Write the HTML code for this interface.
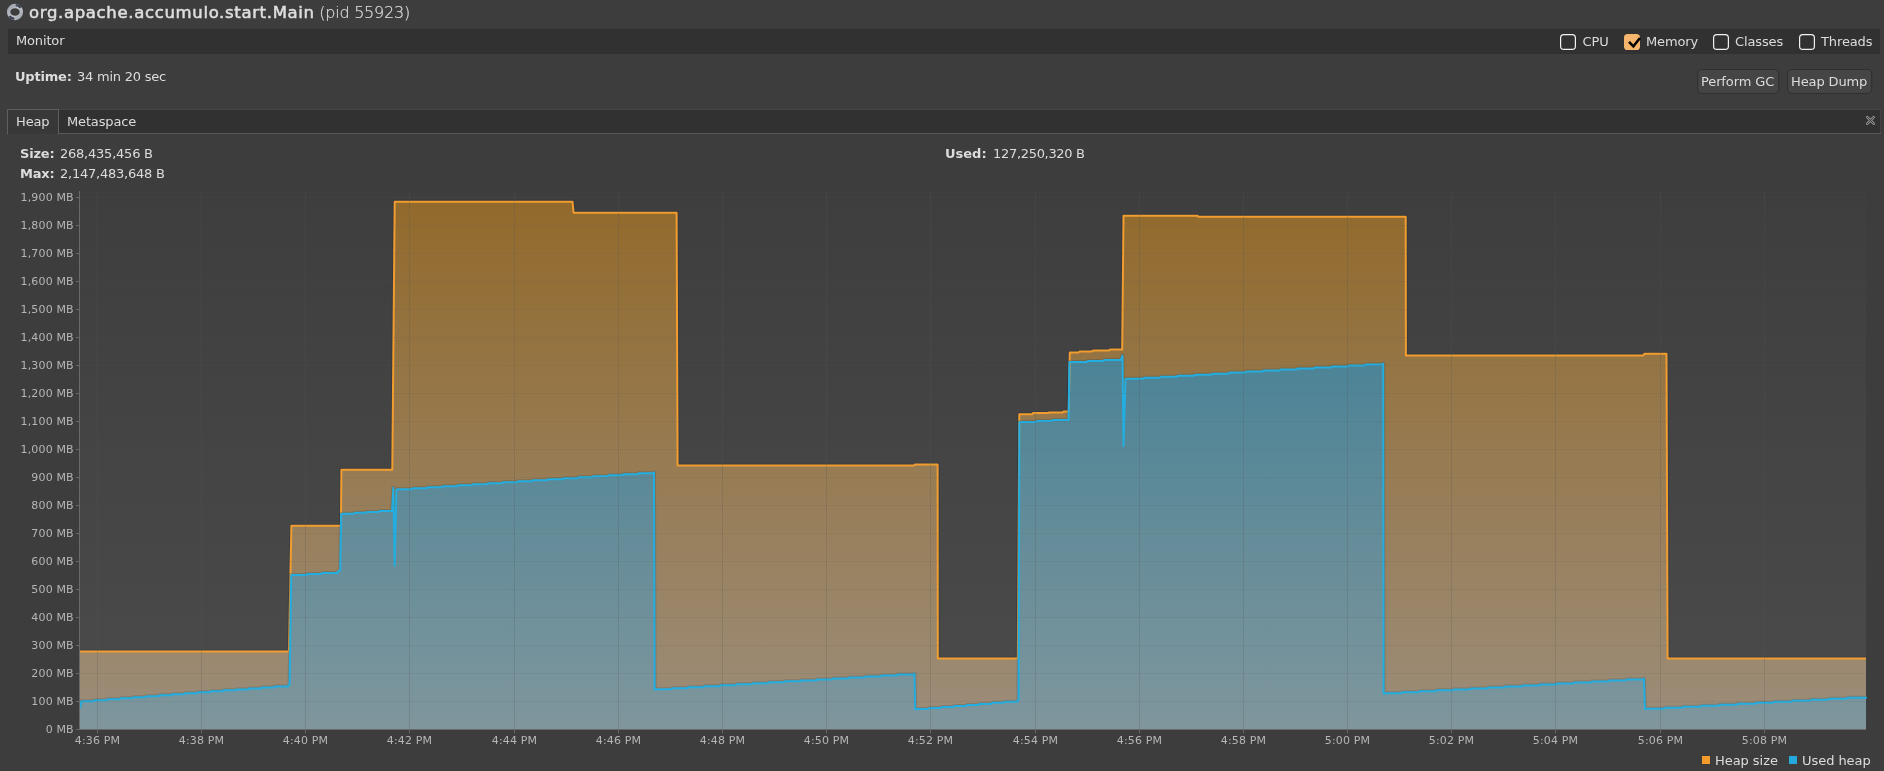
<!DOCTYPE html>
<html><head><meta charset="utf-8"><title>VisualVM - org.apache.accumulo.start.Main</title>
<style>
html,body{margin:0;padding:0}
body{width:1884px;height:771px;overflow:hidden;background:#3d3d3d;color:#dcdcdc;font-family:"DejaVu Sans","Liberation Sans",sans-serif;font-size:13px;position:relative}
#wrap{position:absolute;left:0;top:0;width:1884px;height:771px;will-change:transform}
.abs{position:absolute;white-space:nowrap}
#title{left:29px;top:2px;font-size:16.5px;line-height:22px;color:#dedede;letter-spacing:0.66px;-webkit-text-stroke:0.55px #dedede}
#pid{left:319.3px;top:2px;font-size:16px;line-height:22px;color:#dcdcdc;font-weight:200;letter-spacing:-0.24px;-webkit-text-stroke:0.22px #dcdcdc}
.t{line-height:16px;height:16px;letter-spacing:-0.15px}
.t b{letter-spacing:-0.2px}
.n{letter-spacing:-0.23px}
.c{letter-spacing:-0.12px}
#chart{position:absolute;left:0;top:0}
#chart text{font-family:"DejaVu Sans","Liberation Sans",sans-serif;font-size:11px;fill:#b6b6b6;letter-spacing:0.15px}
.lg{top:753px;letter-spacing:-0.05px;font-size:13px;line-height:16px;color:#dcdcdc}
</style></head><body><div id="wrap">
<svg id="chart" width="1884" height="771" viewBox="0 0 1884 771">
<defs>
<linearGradient id="pbg" gradientUnits="userSpaceOnUse" x1="0" y1="191" x2="0" y2="729"><stop offset="0" stop-color="#3e3e3e"/><stop offset="1" stop-color="#4b4b4b"/></linearGradient>
<linearGradient id="og" gradientUnits="userSpaceOnUse" x1="0" y1="191" x2="0" y2="729"><stop offset="0" stop-color="#92692a"/><stop offset="1" stop-color="#9c8d7a"/></linearGradient>
<linearGradient id="bg" gradientUnits="userSpaceOnUse" x1="0" y1="191" x2="0" y2="729"><stop offset="0" stop-color="#347b94"/><stop offset="1" stop-color="#7f969c"/></linearGradient>
<linearGradient id="ic" x1="0" y1="0" x2="1" y2="1"><stop offset="0" stop-color="#8e939e"/><stop offset="0.5" stop-color="#c2c5cb"/><stop offset="1" stop-color="#989da7"/></linearGradient>
</defs>
<rect x="80" y="191" width="1786" height="538" fill="url(#pbg)"/>
<polygon points="80.0,651.5 288.9,651.5 291.4,525.7 340.9,525.7 341.4,469.7 392.3,469.7 394.7,201.7 572.5,201.7 573.6,212.7 676.6,212.7 677.6,465.5 914.0,465.4 915.0,464.4 937.6,464.4 937.8,658.6 1017.8,658.6 1019.3,414.2 1032.0,414.2 1033.2,413.1 1048.0,413.1 1049.2,412.5 1062.4,412.5 1063.6,411.5 1068.7,411.5 1069.8,352.4 1078.4,352.4 1079.6,351.4 1091.9,351.4 1093.1,350.6 1108.8,350.6 1110.0,349.6 1122.2,349.6 1123.5,215.7 1197.5,215.7 1198.5,216.7 1405.7,216.7 1405.9,355.5 1643.2,355.5 1644.2,353.8 1666.5,353.8 1667.6,658.5 1866.0,658.5 1866.0,729.0 80.0,729.0" fill="url(#og)"/>
<polygon points="80.0,708.0 81.3,701.4 82.5,701.2 93.8,701.2 95.3,700.2 106.7,700.2 108.2,699.2 119.5,699.2 121.0,698.2 132.4,698.2 133.9,697.2 145.2,697.2 146.7,696.3 158.1,696.3 159.6,695.3 170.9,695.3 172.4,694.3 183.8,694.3 185.2,693.3 196.6,693.3 198.1,692.3 209.4,692.3 210.9,691.3 222.3,691.3 223.8,690.3 235.1,690.3 236.6,689.4 248.0,689.4 249.5,688.4 260.8,688.4 262.3,687.4 273.7,687.4 275.2,686.4 288.0,686.4 288.0,685.4 289.6,684.6 291.2,575.3 292.5,575.1 306.0,575.1 307.5,574.0 321.0,574.0 322.5,572.9 337.5,572.9 337.5,571.8 340.2,570.5 341.2,513.9 342.5,513.7 353.4,513.7 354.9,512.8 365.8,512.8 367.3,511.9 378.2,511.9 379.7,510.9 392.1,510.9 392.1,510.0 393.3,487.8 394.7,565.8 396.4,489.7 398.0,489.2 411.6,489.2 413.1,488.2 426.6,488.2 428.1,487.2 441.7,487.2 443.2,486.2 456.7,486.2 458.2,485.2 471.8,485.2 473.3,484.2 486.9,484.2 488.4,483.2 501.9,483.2 503.4,482.2 517.0,482.2 518.5,481.2 532.0,481.2 533.5,480.2 547.1,480.2 548.6,479.2 562.1,479.2 563.6,478.2 577.2,478.2 578.7,477.2 592.3,477.2 593.8,476.2 607.3,476.2 608.8,475.2 622.4,475.2 623.9,474.2 637.4,474.2 638.9,473.2 654.0,473.2 654.0,472.2 654.6,689.4 656.0,689.3 670.6,689.3 672.1,688.3 686.8,688.3 688.3,687.3 703.0,687.3 704.5,686.3 719.1,686.3 720.6,685.3 735.2,685.3 736.8,684.3 751.4,684.3 752.9,683.3 767.5,683.3 769.0,682.3 783.7,682.3 785.2,681.3 799.9,681.3 801.4,680.4 816.0,680.4 817.5,679.4 832.1,679.4 833.6,678.4 848.3,678.4 849.8,677.4 864.5,677.4 866.0,676.4 880.6,676.4 882.1,675.4 896.8,675.4 898.2,674.4 914.4,674.4 914.4,673.4 915.2,709.4 917.0,709.0 928.0,709.0 929.5,708.0 940.6,708.0 942.1,707.0 953.1,707.0 954.6,705.9 965.7,705.9 967.2,704.9 978.2,704.9 979.8,703.9 990.8,703.9 992.3,702.8 1003.4,702.8 1004.9,701.8 1017.4,701.8 1017.4,700.8 1018.6,699.5 1019.4,422.2 1021.0,422.0 1035.4,422.0 1036.9,421.1 1051.2,421.1 1052.7,420.1 1068.6,420.1 1068.6,419.2 1069.4,362.3 1071.0,362.1 1086.3,362.1 1087.8,361.0 1103.0,361.0 1104.5,359.9 1121.3,359.9 1121.3,358.8 1122.5,355.7 1123.5,446.0 1125.5,379.0 1127.0,378.8 1142.6,378.8 1144.1,377.8 1159.7,377.8 1161.2,376.7 1176.7,376.7 1178.2,375.7 1193.8,375.7 1195.3,374.7 1210.9,374.7 1212.4,373.7 1228.0,373.7 1229.5,372.6 1245.1,372.6 1246.6,371.6 1262.1,371.6 1263.6,370.6 1279.2,370.6 1280.7,369.6 1296.3,369.6 1297.8,368.5 1313.4,368.5 1314.9,367.5 1330.5,367.5 1332.0,366.5 1347.5,366.5 1349.0,365.5 1364.6,365.5 1366.1,364.4 1383.2,364.4 1383.2,363.4 1383.6,693.5 1385.0,693.3 1400.8,693.3 1402.3,692.3 1418.0,692.3 1419.5,691.3 1435.3,691.3 1436.8,690.3 1452.5,690.3 1454.0,689.4 1469.8,689.4 1471.3,688.4 1487.1,688.4 1488.6,687.4 1504.3,687.4 1505.8,686.4 1521.6,686.4 1523.1,685.4 1538.8,685.4 1540.3,684.4 1556.1,684.4 1557.6,683.4 1573.4,683.4 1574.9,682.4 1590.6,682.4 1592.1,681.5 1607.9,681.5 1609.4,680.5 1625.1,680.5 1626.6,679.5 1643.9,679.5 1643.9,678.5 1645.0,709.0 1647.0,708.7 1663.8,708.7 1665.2,707.7 1682.0,707.7 1683.5,706.7 1700.2,706.7 1701.8,705.7 1718.5,705.7 1720.0,704.7 1736.8,704.7 1738.2,703.7 1755.0,703.7 1756.5,702.7 1773.2,702.7 1774.8,701.7 1791.5,701.7 1793.0,700.7 1809.8,700.7 1811.2,699.7 1828.0,699.7 1829.5,698.7 1846.2,698.7 1847.8,697.7 1866.0,697.7 1866.0,696.7 1866.0,729.0 80.0,729.0" fill="url(#bg)"/>
<clipPath id="co"><path clip-rule="evenodd" d="M80 191H1866V729H80Z M80.0 651.5 L288.9 651.5 L291.4 525.7 L340.9 525.7 L341.4 469.7 L392.3 469.7 L394.7 201.7 L572.5 201.7 L573.6 212.7 L676.6 212.7 L677.6 465.5 L914.0 465.4 L915.0 464.4 L937.6 464.4 L937.8 658.6 L1017.8 658.6 L1019.3 414.2 L1032.0 414.2 L1033.2 413.1 L1048.0 413.1 L1049.2 412.5 L1062.4 412.5 L1063.6 411.5 L1068.7 411.5 L1069.8 352.4 L1078.4 352.4 L1079.6 351.4 L1091.9 351.4 L1093.1 350.6 L1108.8 350.6 L1110.0 349.6 L1122.2 349.6 L1123.5 215.7 L1197.5 215.7 L1198.5 216.7 L1405.7 216.7 L1405.9 355.5 L1643.2 355.5 L1644.2 353.8 L1666.5 353.8 L1667.6 658.5 L1866.0 658.5 L1866.0 732.0 L77.0 732.0 L77.0 651.5Z"/></clipPath>
<clipPath id="cb"><path clip-rule="evenodd" d="M80 191H1866V729H80Z M80.0 708.0 L81.3 701.4 L82.5 701.2 L93.8 701.2 L95.3 700.2 L106.7 700.2 L108.2 699.2 L119.5 699.2 L121.0 698.2 L132.4 698.2 L133.9 697.2 L145.2 697.2 L146.7 696.3 L158.1 696.3 L159.6 695.3 L170.9 695.3 L172.4 694.3 L183.8 694.3 L185.2 693.3 L196.6 693.3 L198.1 692.3 L209.4 692.3 L210.9 691.3 L222.3 691.3 L223.8 690.3 L235.1 690.3 L236.6 689.4 L248.0 689.4 L249.5 688.4 L260.8 688.4 L262.3 687.4 L273.7 687.4 L275.2 686.4 L288.0 686.4 L288.0 685.4 L289.6 684.6 L291.2 575.3 L292.5 575.1 L306.0 575.1 L307.5 574.0 L321.0 574.0 L322.5 572.9 L337.5 572.9 L337.5 571.8 L340.2 570.5 L341.2 513.9 L342.5 513.7 L353.4 513.7 L354.9 512.8 L365.8 512.8 L367.3 511.9 L378.2 511.9 L379.7 510.9 L392.1 510.9 L392.1 510.0 L393.3 487.8 L394.7 565.8 L396.4 489.7 L398.0 489.2 L411.6 489.2 L413.1 488.2 L426.6 488.2 L428.1 487.2 L441.7 487.2 L443.2 486.2 L456.7 486.2 L458.2 485.2 L471.8 485.2 L473.3 484.2 L486.9 484.2 L488.4 483.2 L501.9 483.2 L503.4 482.2 L517.0 482.2 L518.5 481.2 L532.0 481.2 L533.5 480.2 L547.1 480.2 L548.6 479.2 L562.1 479.2 L563.6 478.2 L577.2 478.2 L578.7 477.2 L592.3 477.2 L593.8 476.2 L607.3 476.2 L608.8 475.2 L622.4 475.2 L623.9 474.2 L637.4 474.2 L638.9 473.2 L654.0 473.2 L654.0 472.2 L654.6 689.4 L656.0 689.3 L670.6 689.3 L672.1 688.3 L686.8 688.3 L688.3 687.3 L703.0 687.3 L704.5 686.3 L719.1 686.3 L720.6 685.3 L735.2 685.3 L736.8 684.3 L751.4 684.3 L752.9 683.3 L767.5 683.3 L769.0 682.3 L783.7 682.3 L785.2 681.3 L799.9 681.3 L801.4 680.4 L816.0 680.4 L817.5 679.4 L832.1 679.4 L833.6 678.4 L848.3 678.4 L849.8 677.4 L864.5 677.4 L866.0 676.4 L880.6 676.4 L882.1 675.4 L896.8 675.4 L898.2 674.4 L914.4 674.4 L914.4 673.4 L915.2 709.4 L917.0 709.0 L928.0 709.0 L929.5 708.0 L940.6 708.0 L942.1 707.0 L953.1 707.0 L954.6 705.9 L965.7 705.9 L967.2 704.9 L978.2 704.9 L979.8 703.9 L990.8 703.9 L992.3 702.8 L1003.4 702.8 L1004.9 701.8 L1017.4 701.8 L1017.4 700.8 L1018.6 699.5 L1019.4 422.2 L1021.0 422.0 L1035.4 422.0 L1036.9 421.1 L1051.2 421.1 L1052.7 420.1 L1068.6 420.1 L1068.6 419.2 L1069.4 362.3 L1071.0 362.1 L1086.3 362.1 L1087.8 361.0 L1103.0 361.0 L1104.5 359.9 L1121.3 359.9 L1121.3 358.8 L1122.5 355.7 L1123.5 446.0 L1125.5 379.0 L1127.0 378.8 L1142.6 378.8 L1144.1 377.8 L1159.7 377.8 L1161.2 376.7 L1176.7 376.7 L1178.2 375.7 L1193.8 375.7 L1195.3 374.7 L1210.9 374.7 L1212.4 373.7 L1228.0 373.7 L1229.5 372.6 L1245.1 372.6 L1246.6 371.6 L1262.1 371.6 L1263.6 370.6 L1279.2 370.6 L1280.7 369.6 L1296.3 369.6 L1297.8 368.5 L1313.4 368.5 L1314.9 367.5 L1330.5 367.5 L1332.0 366.5 L1347.5 366.5 L1349.0 365.5 L1364.6 365.5 L1366.1 364.4 L1383.2 364.4 L1383.2 363.4 L1383.6 693.5 L1385.0 693.3 L1400.8 693.3 L1402.3 692.3 L1418.0 692.3 L1419.5 691.3 L1435.3 691.3 L1436.8 690.3 L1452.5 690.3 L1454.0 689.4 L1469.8 689.4 L1471.3 688.4 L1487.1 688.4 L1488.6 687.4 L1504.3 687.4 L1505.8 686.4 L1521.6 686.4 L1523.1 685.4 L1538.8 685.4 L1540.3 684.4 L1556.1 684.4 L1557.6 683.4 L1573.4 683.4 L1574.9 682.4 L1590.6 682.4 L1592.1 681.5 L1607.9 681.5 L1609.4 680.5 L1625.1 680.5 L1626.6 679.5 L1643.9 679.5 L1643.9 678.5 L1645.0 709.0 L1647.0 708.7 L1663.8 708.7 L1665.2 707.7 L1682.0 707.7 L1683.5 706.7 L1700.2 706.7 L1701.8 705.7 L1718.5 705.7 L1720.0 704.7 L1736.8 704.7 L1738.2 703.7 L1755.0 703.7 L1756.5 702.7 L1773.2 702.7 L1774.8 701.7 L1791.5 701.7 L1793.0 700.7 L1809.8 700.7 L1811.2 699.7 L1828.0 699.7 L1829.5 698.7 L1846.2 698.7 L1847.8 697.7 L1866.0 697.7 L1866.0 696.7 L1866.0 732.0 L77.0 732.0 L77.0 708.0Z"/></clipPath>
<polyline clip-path="url(#co)" points="80.0,651.5 288.9,651.5 291.4,525.7 340.9,525.7 341.4,469.7 392.3,469.7 394.7,201.7 572.5,201.7 573.6,212.7 676.6,212.7 677.6,465.5 914.0,465.4 915.0,464.4 937.6,464.4 937.8,658.6 1017.8,658.6 1019.3,414.2 1032.0,414.2 1033.2,413.1 1048.0,413.1 1049.2,412.5 1062.4,412.5 1063.6,411.5 1068.7,411.5 1069.8,352.4 1078.4,352.4 1079.6,351.4 1091.9,351.4 1093.1,350.6 1108.8,350.6 1110.0,349.6 1122.2,349.6 1123.5,215.7 1197.5,215.7 1198.5,216.7 1405.7,216.7 1405.9,355.5 1643.2,355.5 1644.2,353.8 1666.5,353.8 1667.6,658.5 1866.0,658.5" fill="none" stroke="#1c2a40" stroke-opacity="0.28" stroke-width="4" stroke-linejoin="round"/>
<polyline points="80.0,651.5 288.9,651.5 291.4,525.7 340.9,525.7 341.4,469.7 392.3,469.7 394.7,201.7 572.5,201.7 573.6,212.7 676.6,212.7 677.6,465.5 914.0,465.4 915.0,464.4 937.6,464.4 937.8,658.6 1017.8,658.6 1019.3,414.2 1032.0,414.2 1033.2,413.1 1048.0,413.1 1049.2,412.5 1062.4,412.5 1063.6,411.5 1068.7,411.5 1069.8,352.4 1078.4,352.4 1079.6,351.4 1091.9,351.4 1093.1,350.6 1108.8,350.6 1110.0,349.6 1122.2,349.6 1123.5,215.7 1197.5,215.7 1198.5,216.7 1405.7,216.7 1405.9,355.5 1643.2,355.5 1644.2,353.8 1666.5,353.8 1667.6,658.5 1866.0,658.5" fill="none" stroke="#f29d2e" stroke-width="2" stroke-linejoin="round"/>
<polyline clip-path="url(#cb)" points="80.0,708.0 81.3,701.4 82.5,701.2 93.8,701.2 95.3,700.2 106.7,700.2 108.2,699.2 119.5,699.2 121.0,698.2 132.4,698.2 133.9,697.2 145.2,697.2 146.7,696.3 158.1,696.3 159.6,695.3 170.9,695.3 172.4,694.3 183.8,694.3 185.2,693.3 196.6,693.3 198.1,692.3 209.4,692.3 210.9,691.3 222.3,691.3 223.8,690.3 235.1,690.3 236.6,689.4 248.0,689.4 249.5,688.4 260.8,688.4 262.3,687.4 273.7,687.4 275.2,686.4 288.0,686.4 288.0,685.4 289.6,684.6 291.2,575.3 292.5,575.1 306.0,575.1 307.5,574.0 321.0,574.0 322.5,572.9 337.5,572.9 337.5,571.8 340.2,570.5 341.2,513.9 342.5,513.7 353.4,513.7 354.9,512.8 365.8,512.8 367.3,511.9 378.2,511.9 379.7,510.9 392.1,510.9 392.1,510.0 393.3,487.8 394.7,565.8 396.4,489.7 398.0,489.2 411.6,489.2 413.1,488.2 426.6,488.2 428.1,487.2 441.7,487.2 443.2,486.2 456.7,486.2 458.2,485.2 471.8,485.2 473.3,484.2 486.9,484.2 488.4,483.2 501.9,483.2 503.4,482.2 517.0,482.2 518.5,481.2 532.0,481.2 533.5,480.2 547.1,480.2 548.6,479.2 562.1,479.2 563.6,478.2 577.2,478.2 578.7,477.2 592.3,477.2 593.8,476.2 607.3,476.2 608.8,475.2 622.4,475.2 623.9,474.2 637.4,474.2 638.9,473.2 654.0,473.2 654.0,472.2 654.6,689.4 656.0,689.3 670.6,689.3 672.1,688.3 686.8,688.3 688.3,687.3 703.0,687.3 704.5,686.3 719.1,686.3 720.6,685.3 735.2,685.3 736.8,684.3 751.4,684.3 752.9,683.3 767.5,683.3 769.0,682.3 783.7,682.3 785.2,681.3 799.9,681.3 801.4,680.4 816.0,680.4 817.5,679.4 832.1,679.4 833.6,678.4 848.3,678.4 849.8,677.4 864.5,677.4 866.0,676.4 880.6,676.4 882.1,675.4 896.8,675.4 898.2,674.4 914.4,674.4 914.4,673.4 915.2,709.4 917.0,709.0 928.0,709.0 929.5,708.0 940.6,708.0 942.1,707.0 953.1,707.0 954.6,705.9 965.7,705.9 967.2,704.9 978.2,704.9 979.8,703.9 990.8,703.9 992.3,702.8 1003.4,702.8 1004.9,701.8 1017.4,701.8 1017.4,700.8 1018.6,699.5 1019.4,422.2 1021.0,422.0 1035.4,422.0 1036.9,421.1 1051.2,421.1 1052.7,420.1 1068.6,420.1 1068.6,419.2 1069.4,362.3 1071.0,362.1 1086.3,362.1 1087.8,361.0 1103.0,361.0 1104.5,359.9 1121.3,359.9 1121.3,358.8 1122.5,355.7 1123.5,446.0 1125.5,379.0 1127.0,378.8 1142.6,378.8 1144.1,377.8 1159.7,377.8 1161.2,376.7 1176.7,376.7 1178.2,375.7 1193.8,375.7 1195.3,374.7 1210.9,374.7 1212.4,373.7 1228.0,373.7 1229.5,372.6 1245.1,372.6 1246.6,371.6 1262.1,371.6 1263.6,370.6 1279.2,370.6 1280.7,369.6 1296.3,369.6 1297.8,368.5 1313.4,368.5 1314.9,367.5 1330.5,367.5 1332.0,366.5 1347.5,366.5 1349.0,365.5 1364.6,365.5 1366.1,364.4 1383.2,364.4 1383.2,363.4 1383.6,693.5 1385.0,693.3 1400.8,693.3 1402.3,692.3 1418.0,692.3 1419.5,691.3 1435.3,691.3 1436.8,690.3 1452.5,690.3 1454.0,689.4 1469.8,689.4 1471.3,688.4 1487.1,688.4 1488.6,687.4 1504.3,687.4 1505.8,686.4 1521.6,686.4 1523.1,685.4 1538.8,685.4 1540.3,684.4 1556.1,684.4 1557.6,683.4 1573.4,683.4 1574.9,682.4 1590.6,682.4 1592.1,681.5 1607.9,681.5 1609.4,680.5 1625.1,680.5 1626.6,679.5 1643.9,679.5 1643.9,678.5 1645.0,709.0 1647.0,708.7 1663.8,708.7 1665.2,707.7 1682.0,707.7 1683.5,706.7 1700.2,706.7 1701.8,705.7 1718.5,705.7 1720.0,704.7 1736.8,704.7 1738.2,703.7 1755.0,703.7 1756.5,702.7 1773.2,702.7 1774.8,701.7 1791.5,701.7 1793.0,700.7 1809.8,700.7 1811.2,699.7 1828.0,699.7 1829.5,698.7 1846.2,698.7 1847.8,697.7 1866.0,697.7 1866.0,696.7" fill="none" stroke="#1c2a40" stroke-opacity="0.18" stroke-width="4" stroke-linejoin="round"/>
<polyline points="80.0,708.0 81.3,701.4 82.5,701.2 93.8,701.2 95.3,700.2 106.7,700.2 108.2,699.2 119.5,699.2 121.0,698.2 132.4,698.2 133.9,697.2 145.2,697.2 146.7,696.3 158.1,696.3 159.6,695.3 170.9,695.3 172.4,694.3 183.8,694.3 185.2,693.3 196.6,693.3 198.1,692.3 209.4,692.3 210.9,691.3 222.3,691.3 223.8,690.3 235.1,690.3 236.6,689.4 248.0,689.4 249.5,688.4 260.8,688.4 262.3,687.4 273.7,687.4 275.2,686.4 288.0,686.4 288.0,685.4 289.6,684.6 291.2,575.3 292.5,575.1 306.0,575.1 307.5,574.0 321.0,574.0 322.5,572.9 337.5,572.9 337.5,571.8 340.2,570.5 341.2,513.9 342.5,513.7 353.4,513.7 354.9,512.8 365.8,512.8 367.3,511.9 378.2,511.9 379.7,510.9 392.1,510.9 392.1,510.0 393.3,487.8 394.7,565.8 396.4,489.7 398.0,489.2 411.6,489.2 413.1,488.2 426.6,488.2 428.1,487.2 441.7,487.2 443.2,486.2 456.7,486.2 458.2,485.2 471.8,485.2 473.3,484.2 486.9,484.2 488.4,483.2 501.9,483.2 503.4,482.2 517.0,482.2 518.5,481.2 532.0,481.2 533.5,480.2 547.1,480.2 548.6,479.2 562.1,479.2 563.6,478.2 577.2,478.2 578.7,477.2 592.3,477.2 593.8,476.2 607.3,476.2 608.8,475.2 622.4,475.2 623.9,474.2 637.4,474.2 638.9,473.2 654.0,473.2 654.0,472.2 654.6,689.4 656.0,689.3 670.6,689.3 672.1,688.3 686.8,688.3 688.3,687.3 703.0,687.3 704.5,686.3 719.1,686.3 720.6,685.3 735.2,685.3 736.8,684.3 751.4,684.3 752.9,683.3 767.5,683.3 769.0,682.3 783.7,682.3 785.2,681.3 799.9,681.3 801.4,680.4 816.0,680.4 817.5,679.4 832.1,679.4 833.6,678.4 848.3,678.4 849.8,677.4 864.5,677.4 866.0,676.4 880.6,676.4 882.1,675.4 896.8,675.4 898.2,674.4 914.4,674.4 914.4,673.4 915.2,709.4 917.0,709.0 928.0,709.0 929.5,708.0 940.6,708.0 942.1,707.0 953.1,707.0 954.6,705.9 965.7,705.9 967.2,704.9 978.2,704.9 979.8,703.9 990.8,703.9 992.3,702.8 1003.4,702.8 1004.9,701.8 1017.4,701.8 1017.4,700.8 1018.6,699.5 1019.4,422.2 1021.0,422.0 1035.4,422.0 1036.9,421.1 1051.2,421.1 1052.7,420.1 1068.6,420.1 1068.6,419.2 1069.4,362.3 1071.0,362.1 1086.3,362.1 1087.8,361.0 1103.0,361.0 1104.5,359.9 1121.3,359.9 1121.3,358.8 1122.5,355.7 1123.5,446.0 1125.5,379.0 1127.0,378.8 1142.6,378.8 1144.1,377.8 1159.7,377.8 1161.2,376.7 1176.7,376.7 1178.2,375.7 1193.8,375.7 1195.3,374.7 1210.9,374.7 1212.4,373.7 1228.0,373.7 1229.5,372.6 1245.1,372.6 1246.6,371.6 1262.1,371.6 1263.6,370.6 1279.2,370.6 1280.7,369.6 1296.3,369.6 1297.8,368.5 1313.4,368.5 1314.9,367.5 1330.5,367.5 1332.0,366.5 1347.5,366.5 1349.0,365.5 1364.6,365.5 1366.1,364.4 1383.2,364.4 1383.2,363.4 1383.6,693.5 1385.0,693.3 1400.8,693.3 1402.3,692.3 1418.0,692.3 1419.5,691.3 1435.3,691.3 1436.8,690.3 1452.5,690.3 1454.0,689.4 1469.8,689.4 1471.3,688.4 1487.1,688.4 1488.6,687.4 1504.3,687.4 1505.8,686.4 1521.6,686.4 1523.1,685.4 1538.8,685.4 1540.3,684.4 1556.1,684.4 1557.6,683.4 1573.4,683.4 1574.9,682.4 1590.6,682.4 1592.1,681.5 1607.9,681.5 1609.4,680.5 1625.1,680.5 1626.6,679.5 1643.9,679.5 1643.9,678.5 1645.0,709.0 1647.0,708.7 1663.8,708.7 1665.2,707.7 1682.0,707.7 1683.5,706.7 1700.2,706.7 1701.8,705.7 1718.5,705.7 1720.0,704.7 1736.8,704.7 1738.2,703.7 1755.0,703.7 1756.5,702.7 1773.2,702.7 1774.8,701.7 1791.5,701.7 1793.0,700.7 1809.8,700.7 1811.2,699.7 1828.0,699.7 1829.5,698.7 1846.2,698.7 1847.8,697.7 1866.0,697.7 1866.0,696.7" fill="none" stroke="#22aee0" stroke-width="2" stroke-linejoin="round"/>
<path d="M80 701.5H1866 M80 673.5H1866 M80 645.5H1866 M80 617.5H1866 M80 589.5H1866 M80 561.5H1866 M80 533.5H1866 M80 505.5H1866 M80 477.5H1866 M80 449.5H1866 M80 421.5H1866 M80 393.5H1866 M80 365.5H1866 M80 337.5H1866 M80 309.5H1866 M80 281.5H1866 M80 253.5H1866 M80 225.5H1866 M80 197.5H1866" stroke="#585858" stroke-opacity="0.24" stroke-width="1" stroke-dasharray="1 1" fill="none"/>
<path d="M97.5 191V729 M201.5 191V729 M305.5 191V729 M409.5 191V729 M514.5 191V729 M618.5 191V729 M722.5 191V729 M826.5 191V729 M930.5 191V729 M1035.5 191V729 M1139.5 191V729 M1243.5 191V729 M1347.5 191V729 M1451.5 191V729 M1555.5 191V729 M1660.5 191V729 M1764.5 191V729" stroke="#585858" stroke-opacity="0.24" stroke-width="1" fill="none"/>
<path d="M79.5 191V730 M79 729.5H1866 M76 729.5H79 M76 701.5H79 M76 673.5H79 M76 645.5H79 M76 617.5H79 M76 589.5H79 M76 561.5H79 M76 533.5H79 M76 505.5H79 M76 477.5H79 M76 449.5H79 M76 421.5H79 M76 393.5H79 M76 365.5H79 M76 337.5H79 M76 309.5H79 M76 281.5H79 M76 253.5H79 M76 225.5H79 M76 197.5H79 M97.5 730V733 M201.5 730V733 M305.5 730V733 M409.5 730V733 M514.5 730V733 M618.5 730V733 M722.5 730V733 M826.5 730V733 M930.5 730V733 M1035.5 730V733 M1139.5 730V733 M1243.5 730V733 M1347.5 730V733 M1451.5 730V733 M1555.5 730V733 M1660.5 730V733 M1764.5 730V733" stroke="#696969" stroke-width="1" fill="none"/>
<g class="ax">
<text x="73.8" y="733" text-anchor="end">0 MB</text>
<text x="73.8" y="705" text-anchor="end">100 MB</text>
<text x="73.8" y="677" text-anchor="end">200 MB</text>
<text x="73.8" y="649" text-anchor="end">300 MB</text>
<text x="73.8" y="621" text-anchor="end">400 MB</text>
<text x="73.8" y="593" text-anchor="end">500 MB</text>
<text x="73.8" y="565" text-anchor="end">600 MB</text>
<text x="73.8" y="537" text-anchor="end">700 MB</text>
<text x="73.8" y="509" text-anchor="end">800 MB</text>
<text x="73.8" y="481" text-anchor="end">900 MB</text>
<text x="73.8" y="453" text-anchor="end">1,000 MB</text>
<text x="73.8" y="425" text-anchor="end">1,100 MB</text>
<text x="73.8" y="397" text-anchor="end">1,200 MB</text>
<text x="73.8" y="369" text-anchor="end">1,300 MB</text>
<text x="73.8" y="341" text-anchor="end">1,400 MB</text>
<text x="73.8" y="313" text-anchor="end">1,500 MB</text>
<text x="73.8" y="285" text-anchor="end">1,600 MB</text>
<text x="73.8" y="257" text-anchor="end">1,700 MB</text>
<text x="73.8" y="229" text-anchor="end">1,800 MB</text>
<text x="73.8" y="201" text-anchor="end">1,900 MB</text>
<text x="97.5" y="744" text-anchor="middle">4:36 PM</text>
<text x="201.5" y="744" text-anchor="middle">4:38 PM</text>
<text x="305.5" y="744" text-anchor="middle">4:40 PM</text>
<text x="409.5" y="744" text-anchor="middle">4:42 PM</text>
<text x="514.5" y="744" text-anchor="middle">4:44 PM</text>
<text x="618.5" y="744" text-anchor="middle">4:46 PM</text>
<text x="722.5" y="744" text-anchor="middle">4:48 PM</text>
<text x="826.5" y="744" text-anchor="middle">4:50 PM</text>
<text x="930.5" y="744" text-anchor="middle">4:52 PM</text>
<text x="1035.5" y="744" text-anchor="middle">4:54 PM</text>
<text x="1139.5" y="744" text-anchor="middle">4:56 PM</text>
<text x="1243.5" y="744" text-anchor="middle">4:58 PM</text>
<text x="1347.5" y="744" text-anchor="middle">5:00 PM</text>
<text x="1451.5" y="744" text-anchor="middle">5:02 PM</text>
<text x="1555.5" y="744" text-anchor="middle">5:04 PM</text>
<text x="1660.5" y="744" text-anchor="middle">5:06 PM</text>
<text x="1764.5" y="744" text-anchor="middle">5:08 PM</text>
</g>
<rect x="8" y="29" width="1872" height="25" fill="#313131"/>
<rect x="7" y="109" width="1874" height="25" fill="#444"/>
<rect x="7" y="110" width="1873" height="23" fill="#313131"/>
<rect x="7" y="133" width="1874" height="1" fill="#595959"/>
<rect x="7.5" y="109.5" width="51" height="24.5" fill="#383838" stroke="#5e5e5e"/>
<rect x="8" y="133" width="50" height="1.6" fill="#383838"/>
<rect x="1560.6" y="34.6" width="14.8" height="14.8" rx="3.2" fill="none" stroke="#f2f2f2" stroke-width="1.2"/>
<rect x="1713.6" y="34.6" width="14.8" height="14.8" rx="3.2" fill="none" stroke="#f2f2f2" stroke-width="1.2"/>
<rect x="1799.6" y="34.6" width="14.8" height="14.8" rx="3.2" fill="none" stroke="#f2f2f2" stroke-width="1.2"/>
<rect x="1624" y="34" width="16" height="16" rx="3.6" fill="#f6b56c"/>
<path d="M1629.0 41.8L1633.4 46.3L1640.0 38.0" stroke="#000" stroke-width="2.6" fill="none"/>
<rect x="1697.7" y="69.5" width="81.0" height="23.9" rx="4.2" fill="#454545" stroke="#2f2f2f"/>
<rect x="1787.6" y="69.5" width="84.1" height="23.9" rx="4.2" fill="#454545" stroke="#2f2f2f"/>
<g transform="translate(1870.5 120.4)"><path d="M-3.2 -3.3L3.2 3.3M3.2 -3.3L-3.2 3.3" stroke="#939393" stroke-width="2.6" stroke-linecap="round" fill="none"/><path d="M-3.1 -3.2L3.1 3.2M3.1 -3.2L-3.1 3.2" stroke="#2b2b2b" stroke-width="0.9" stroke-linecap="round" fill="none"/></g>
<g transform="translate(15 12)"><path fill-rule="evenodd" fill="url(#ic)" d="M-8.1 0A8.1 8.2 0 1 0 8.1 0A8.1 8.2 0 1 0 -8.1 0ZM-4.7 0A4.7 3.8 0 1 0 4.7 0A4.7 3.8 0 1 0 -4.7 0Z"/><path d="M1.6 -6.6C3.0 -6.8 4.3 -6.0 4.9 -4.9" stroke="#3b4052" stroke-width="2.3" stroke-linecap="round" fill="none"/><path d="M-4.9 4.7C-4.2 5.9 -2.9 6.6 -1.7 6.5" stroke="#3b4052" stroke-width="2.3" stroke-linecap="round" fill="none"/></g>
<rect x="1702" y="756" width="8" height="8" fill="#f39c2c"/><rect x="1789" y="756" width="8" height="8" fill="#25a8dc"/>
</svg>
<div id="title" class="abs">org.apache.accumulo.start.Main</div><div id="pid" class="abs">(pid 55923)</div>
<div class="abs t" style="left:16px;top:33px">Monitor</div>
<div class="abs t c" style="left:1582.5px;top:34px">CPU</div>
<div class="abs t c" style="left:1646px;top:34px">Memory</div>
<div class="abs t c" style="left:1735px;top:34px">Classes</div>
<div class="abs t c" style="left:1821px;top:34px">Threads</div>
<div class="abs t" style="left:15px;top:69px"><b>Uptime:</b></div><div class="abs t n" style="left:77px;top:69px">34 min 20 sec</div>
<div class="abs t c" style="left:1701px;top:74px">Perform GC</div>
<div class="abs t c" style="left:1791px;top:74px">Heap Dump</div>
<div class="abs t" style="left:16px;top:114px">Heap</div>
<div class="abs t" style="left:67px;top:114px">Metaspace</div>
<div class="abs t" style="left:20px;top:146px"><b>Size:</b></div><div class="abs t n" style="left:60px;top:146px">268,435,456 B</div>
<div class="abs t" style="left:20px;top:166px"><b>Max:</b></div><div class="abs t n" style="left:60px;top:166px">2,147,483,648 B</div>
<div class="abs t" style="left:945px;top:146px"><b style="letter-spacing:0">Used:</b></div><div class="abs t n" style="left:993px;top:146px;letter-spacing:-0.31px">127,250,320 B</div>
<div class="abs lg" style="left:1715px">Heap size</div>
<div class="abs lg" style="left:1802px">Used heap</div>
</div></body></html>
